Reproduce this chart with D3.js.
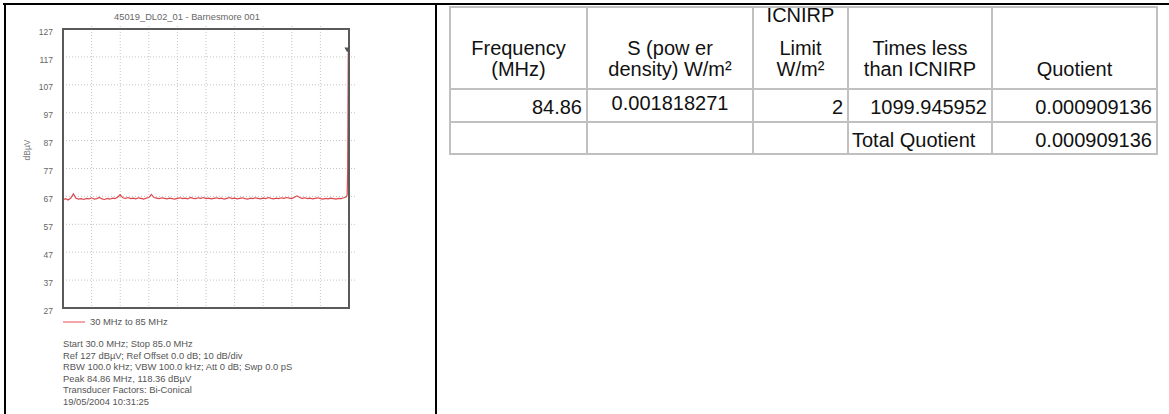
<!DOCTYPE html>
<html>
<head>
<meta charset="utf-8">
<script src="https://cdn.jsdelivr.net/npm/d3@7"></script>
<style>
  body { margin: 0; background: #fff; }
  svg { display: block; font-family: "Liberation Sans", Arial, sans-serif; }
</style>
</head>
<body>
<div id="page"></div>
<script>
// ---- data ----
const chartTitle = "45019_DL02_01 - Barnesmore 001";
const yLabel = "dBµV";
const yTicks = [27, 37, 47, 57, 67, 77, 87, 97, 107, 117, 127];
const sweepRange = [30, 85];

const traceMHz = [
  30.0, 30.5, 31.0, 31.5, 32.0, 32.5, 33.0, 33.5, 34.0, 34.5,
  35.0, 35.5, 36.0, 36.5, 37.0, 37.5, 38.0, 38.5, 39.0, 39.5,
  40.0, 40.5, 41.0, 41.5, 42.0, 42.5, 43.0, 43.5, 44.0, 44.5,
  45.0, 45.5, 46.0, 46.5, 47.0, 47.5, 48.0, 48.5, 49.0, 49.5,
  50.0, 50.5, 51.0, 51.5, 52.0, 52.5, 53.0, 53.5, 54.0, 54.5,
  55.0, 55.5, 56.0, 56.5, 57.0, 57.5, 58.0, 58.5, 59.0, 59.5,
  60.0, 60.5, 61.0, 61.5, 62.0, 62.5, 63.0, 63.5, 64.0, 64.5,
  65.0, 65.5, 66.0, 66.5, 67.0, 67.5, 68.0, 68.5, 69.0, 69.5,
  70.0, 70.5, 71.0, 71.5, 72.0, 72.5, 73.0, 73.5, 74.0, 74.5,
  75.0, 75.5, 76.0, 76.5, 77.0, 77.5, 78.0, 78.5, 79.0, 79.5,
  80.0, 80.5, 81.0, 81.5, 82.0, 82.5, 83.0, 83.5, 84.0, 84.5,
  84.65, 84.75, 84.86, 85.0
];
const traceDbuv = [
  65.8, 66.2, 65.7, 66.4, 67.9, 66.3, 66.0, 66.2, 65.9, 66.3,
  66.1, 66.5, 66.0, 66.2, 66.6, 66.1, 65.9, 66.3, 66.0, 66.4,
  66.2, 66.7, 67.6, 66.5, 66.3, 66.6, 66.2, 66.4, 66.1, 66.5,
  66.3, 66.0, 66.4, 66.6, 67.7, 66.6, 66.4, 66.2, 66.5, 66.3,
  66.1, 66.4, 66.2, 66.0, 66.3, 66.5, 66.2, 66.4, 66.1, 66.6,
  66.3, 66.2, 66.5, 66.3, 66.6, 66.2, 66.4, 66.1, 66.3, 66.5,
  66.2, 66.4, 66.0, 66.3, 66.6, 66.2, 66.4, 66.1, 66.3, 66.5,
  66.2, 66.0, 66.4, 66.2, 66.5, 66.3, 66.1, 66.4, 66.2, 66.6,
  66.3, 66.1, 66.4, 66.2, 66.5, 66.3, 66.6, 66.4, 66.2, 66.7,
  67.2, 66.6, 66.3, 66.5, 66.2, 66.4, 66.1, 66.3, 66.5, 66.2,
  66.0, 66.3, 66.1, 66.4, 66.2, 66.0, 66.3, 66.2, 66.5, 66.9,
  67.6, 77.0, 118.36, 114.0
];
const peakMHz = 84.86;
const peakDbuv = 118.36;

const legendLabel = "30 MHz to 85 MHz";
const infoLines = [
  "Start 30.0 MHz; Stop 85.0 MHz",
  "Ref 127 dBµV; Ref Offset 0.0 dB; 10 dB/div",
  "RBW 100.0 kHz; VBW 100.0 kHz; Att 0 dB; Swp 0.0 pS",
  "Peak 84.86 MHz, 118.36 dBµV",
  "Transducer Factors: Bi-Conical",
  "19/05/2004 10:31:25"
];

// table
const headerLines = [
  ["Frequency", "(MHz)"],
  ["S (pow er", "density) W/m²"],
  ["ICNIRP", "Limit", "W/m²"],
  ["Times less", "than ICNIRP"],
  ["Quotient"]
];
const measuredRow = ["84.86", "0.001818271", "2", "1099.945952", "0.000909136"];
const totalRow = ["", "", "", "Total Quotient", "0.000909136"];

// ---- layout ----
const W = 1169, H = 414;
const plot = { left: 63, right: 349, top: 29, bottom: 308 };
const colEdges = [450, 587, 753, 848, 992, 1157];
const rowEdges = [7, 89, 122, 154];

const svg = d3.select("#page").append("svg")
  .attr("width", W)
  .attr("height", H);

// page frame
svg.append("line").attr("x1", 3).attr("x2", W).attr("y1", 4).attr("y2", 4)
  .attr("stroke", "#000").attr("stroke-width", 2);
svg.append("line").attr("x1", 5).attr("x2", 5).attr("y1", 3).attr("y2", H)
  .attr("stroke", "#000").attr("stroke-width", 2);
svg.append("line").attr("x1", 436).attr("x2", 436).attr("y1", 3).attr("y2", H)
  .attr("stroke", "#000").attr("stroke-width", 2);

// ---- spectrum plot ----
const xScale = d3.scaleLinear().domain(sweepRange).range([plot.left, plot.right]);
const yScale = d3.scaleLinear().domain([yTicks[0], yTicks[yTicks.length - 1]]).range([plot.bottom, plot.top]);

const grid = svg.append("g");
const xDivs = d3.range(11).map(i => sweepRange[0] + i * (sweepRange[1] - sweepRange[0]) / 10);
grid.selectAll(".vgrid")
  .data(xDivs.slice(1, -1))
  .enter().append("line")
  .attr("x1", d => xScale(d)).attr("x2", d => xScale(d))
  .attr("y1", plot.top - 3).attr("y2", plot.bottom)
  .attr("stroke", "#c4c4c4").attr("stroke-dasharray", "1,2");
grid.selectAll(".hgrid")
  .data(yTicks.slice(1, -1))
  .enter().append("line")
  .attr("x1", plot.left).attr("x2", plot.right + 6)
  .attr("y1", d => yScale(d)).attr("y2", d => yScale(d))
  .attr("stroke", "#c4c4c4").attr("stroke-dasharray", "1,2");

// y tick labels
const yAxis = d3.axisLeft(yScale).tickValues(yTicks).tickSize(0).tickPadding(10);
const yAxisG = svg.append("g")
  .attr("transform", `translate(${plot.left},0)`)
  .call(yAxis);
yAxisG.select(".domain").remove();
yAxisG.selectAll("text")
  .attr("fill", "#666")
  .attr("dy", "0.6em")
  .style("font-size", "8.5px")
  .style("font-family", "Liberation Sans, Arial, sans-serif");

// trace
const trace = traceMHz.map((f, i) => ({ f: f, v: traceDbuv[i] }));
svg.append("path")
  .datum(trace)
  .attr("fill", "none")
  .attr("stroke", "#e0474c")
  .attr("stroke-width", 1.2)
  .attr("d", d3.line().x(d => xScale(d.f)).y(d => yScale(d.v)));

// plot frame
svg.append("rect")
  .attr("x", plot.left).attr("y", plot.top)
  .attr("width", plot.right - plot.left).attr("height", plot.bottom - plot.top)
  .attr("fill", "none").attr("stroke", "#5a5a5a").attr("stroke-width", 2);

// peak marker
svg.append("path")
  .attr("d", d3.symbol(d3.symbolTriangle, 14)())
  .attr("transform", `translate(${xScale(peakMHz) - 1},${yScale(peakDbuv) - 4}) rotate(180)`)
  .attr("fill", "#555");

// title & axis label
svg.append("text")
  .attr("x", 187).attr("y", 20)
  .attr("text-anchor", "middle")
  .attr("fill", "#666")
  .style("font-size", "9.3px")
  .text(chartTitle);
svg.append("text")
  .attr("transform", `translate(30,150) rotate(-90)`)
  .attr("text-anchor", "middle")
  .attr("fill", "#777")
  .style("font-size", "8.5px")
  .text(yLabel);

// legend
svg.append("line")
  .attr("x1", plot.left).attr("x2", plot.left + 22)
  .attr("y1", 322).attr("y2", 322)
  .attr("stroke", "#f08a8d").attr("stroke-width", 1.5);
svg.append("text")
  .attr("x", plot.left + 27).attr("y", 325)
  .attr("fill", "#555")
  .style("font-size", "9.4px")
  .text(legendLabel);

// info block
svg.append("g").selectAll("text")
  .data(infoLines)
  .enter().append("text")
  .attr("x", plot.left)
  .attr("y", (d, i) => 347 + i * 11.6)
  .attr("fill", "#555")
  .style("font-size", "9.4px")
  .text(d => d);

// ---- table ----
const table = svg.append("g");
const cellStroke = "#c0c0c0";
table.selectAll(".hline")
  .data(rowEdges)
  .enter().append("line")
  .attr("x1", colEdges[0] - 1).attr("x2", colEdges[colEdges.length - 1] + 1)
  .attr("y1", d => d).attr("y2", d => d)
  .attr("stroke", cellStroke).attr("stroke-width", 2);
table.selectAll(".vline")
  .data(colEdges)
  .enter().append("line")
  .attr("x1", d => d).attr("x2", d => d)
  .attr("y1", rowEdges[0]).attr("y2", rowEdges[rowEdges.length - 1])
  .attr("stroke", cellStroke).attr("stroke-width", 2);

const tableFont = "20px";
const colMid = i => (colEdges[i] + colEdges[i + 1]) / 2;

// header: bottom-aligned lines
const headerBaselines = [22, 55, 76];
headerLines.forEach((lines, i) => {
  const n = lines.length;
  table.selectAll(null)
    .data(lines)
    .enter().append("text")
    .attr("x", colMid(i))
    .attr("y", (d, j) => headerBaselines[3 - n + j])
    .attr("text-anchor", "middle")
    .attr("fill", "#111")
    .style("font-size", tableFont)
    .text(d => d);
});

// measured row
const measuredAlign = ["end", "middle", "end", "end", "end"];
const measuredBase = [114, 110, 114, 114, 114];
table.selectAll(null)
  .data(measuredRow)
  .enter().append("text")
  .attr("x", (d, i) => measuredAlign[i] === "end" ? colEdges[i + 1] - 5 : colMid(i))
  .attr("y", (d, i) => measuredBase[i])
  .attr("text-anchor", (d, i) => measuredAlign[i])
  .attr("fill", "#111")
  .style("font-size", tableFont)
  .text(d => d);

// total row
const totalAlign = ["end", "end", "end", "start", "end"];
table.selectAll(null)
  .data(totalRow)
  .enter().append("text")
  .attr("x", (d, i) => totalAlign[i] === "start" ? colEdges[i] + 4 : colEdges[i + 1] - 5)
  .attr("y", 147)
  .attr("text-anchor", (d, i) => totalAlign[i])
  .attr("fill", "#111")
  .style("font-size", tableFont)
  .text(d => d);
</script>
</body>
</html>
